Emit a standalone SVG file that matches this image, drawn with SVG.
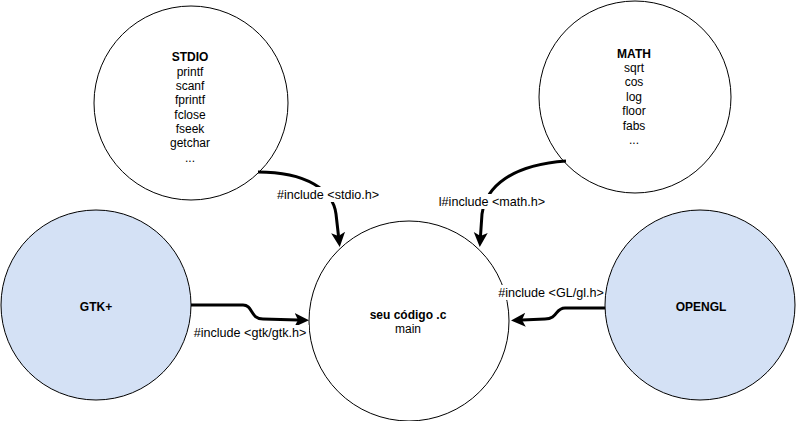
<svg xmlns="http://www.w3.org/2000/svg" width="796" height="421" viewBox="0 0 796 421">
<style>
.node{stroke:#000;stroke-width:1;fill:#fff}
.blue{fill:#d4e1f5}
text{font-family:"Liberation Sans",Arial,sans-serif;font-size:12px;fill:#000;text-anchor:middle}
.b{font-weight:bold}
.lbl{font-size:12.6px}
.edge{fill:none;stroke:#000;stroke-width:3}
.lbg{fill:#fff}
</style>
<defs>
<marker id="arr" markerUnits="userSpaceOnUse" markerWidth="16" markerHeight="16" viewBox="0 -8 16 16" refX="3.5" refY="0" orient="auto">
<path d="M0,-7 L14.5,0 L0,7 L3.5,0 Z" fill="#000"/>
</marker>
</defs>
<rect width="796" height="421" fill="#fff"/>
<g id="stdio">
<circle class="node" cx="191" cy="103" r="97"/>
<text x="190" y="61" class="b">STDIO</text>
<text x="190" y="76">printf</text>
<text x="190" y="90">scanf</text>
<text x="190" y="104">fprintf</text>
<text x="190" y="119">fclose</text>
<text x="190" y="133">fseek</text>
<text x="190" y="147">getchar</text>
<text x="190" y="162">...</text>
</g>
<g id="math">
<circle class="node" cx="635" cy="97" r="96"/>
<text x="634" y="57.5" class="b">MATH</text>
<text x="634" y="72">sqrt</text>
<text x="634" y="86">cos</text>
<text x="634" y="101">log</text>
<text x="634" y="115">floor</text>
<text x="634" y="130">fabs</text>
<text x="634" y="144">...</text>
</g>
<g id="gtk">
<circle class="node blue" cx="96" cy="305" r="95"/>
<text x="96" y="311" class="b">GTK+</text>
</g>
<g id="opengl">
<circle class="node blue" cx="700" cy="305" r="95"/>
<text x="701" y="311" class="b">OPENGL</text>
</g>
<g id="main">
<circle class="node" cx="409" cy="321" r="100"/>
<text x="408" y="319" class="b">seu código .c</text>
<text x="408" y="333">main</text>
</g>
<g id="connectors">
<path class="edge" d="M258,172 C306,172 333,190 336,214 L338.5,236" marker-end="url(#arr)"/>
<path class="edge" d="M566,161 C512,165 486,186 482,214 L480.5,236" marker-end="url(#arr)"/>
<path class="edge" d="M191,305 L243,305 C253,305 250,319 263,319 L298,320" marker-end="url(#arr)"/>
<path class="edge" d="M605,308 L565,308 C555,308 558,319 545,319 L522,320" marker-end="url(#arr)"/>
<g id="label-stdio">
<rect class="lbg" x="277" y="187" width="102" height="15"/>
<text class="lbl" x="328" y="199">#include &lt;stdio.h&gt;</text>
</g>
<g id="label-math">
<rect class="lbg" x="441" y="194" width="102" height="15"/>
<text class="lbl" x="492" y="206">l#include &lt;math.h&gt;</text>
</g>
<g id="label-gtk">
<rect class="lbg" x="191" y="325" width="118" height="15"/>
<text class="lbl" x="250" y="337">#include &lt;gtk/gtk.h&gt;</text>
</g>
<g id="label-gl">
<rect class="lbg" x="499" y="285" width="104" height="15"/>
<text class="lbl" x="551" y="297">#include &lt;GL/gl.h&gt;</text>
</g>
</g>
</svg>
